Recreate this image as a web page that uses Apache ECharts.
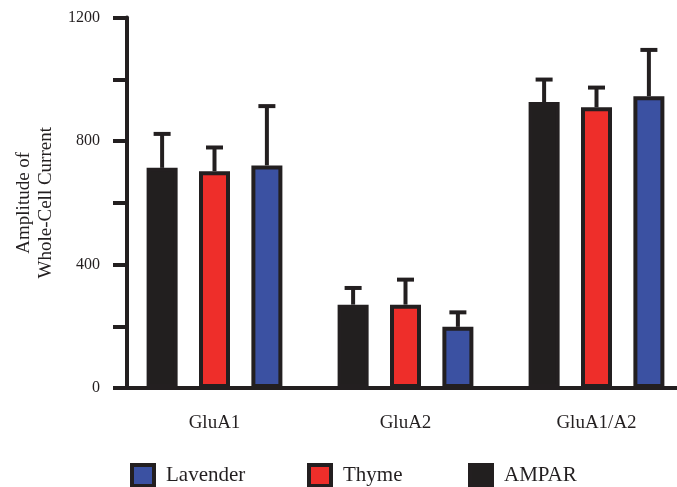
<!DOCTYPE html>
<html>
<head>
<meta charset="utf-8">
<script src="https://cdn.jsdelivr.net/npm/echarts@6/dist/echarts.min.js"></script>
<style>html,body{margin:0;padding:0;background:#fff}#c{width:677px;height:487px}</style>
</head>
<body>
<div id="c"></div>
<script>
const categories = ['GluA1', 'GluA2', 'GluA1/A2'];
const amparMean = [713, 270, 926];
const amparErr = [110, 54, 73];
const thymeMean = [702, 270, 909];
const thymeErr = [77, 81, 64];
const lavenderMean = [721, 198, 945];
const lavenderErr = [192, 47, 150];
const yTicks = [0, 400, 800, 1200];

const FONT = 'Liberation Serif';
const INK = '#231F20';
const BAR_W = 31;
const BAR_GAP = 0.69;
const colors = { AMPAR: '#221F1F', Thyme: '#EE2E2A', Lavender: '#3B51A2' };

const groups = [
  { name: 'AMPAR', mean: amparMean, err: amparErr },
  { name: 'Thyme', mean: thymeMean, err: thymeErr },
  { name: 'Lavender', mean: lavenderMean, err: lavenderErr }
];

const series = [];
groups.forEach((g, gi) => {
  series.push({
    name: g.name,
    type: 'bar',
    barWidth: BAR_W,
    barGap: (BAR_GAP * 100) + '%',
    data: g.mean,
    itemStyle: { color: colors[g.name], borderColor: INK, borderWidth: 4 },
    z: 2
  });
});
groups.forEach((g, gi) => {
  const offset = (gi - 1) * BAR_W * (1 + BAR_GAP);
  series.push({
    type: 'custom',
    name: g.name + ' err',
    z: 3,
    data: g.mean.map((m, i) => [i, m, m + g.err[i]]),
    renderItem: function (params, api) {
      const lo = api.coord([api.value(0), api.value(1)]);
      const hi = api.coord([api.value(0), api.value(2)]);
      const x = lo[0] + offset;
      const cap = 8.5;
      return {
        type: 'group',
        children: [
          { type: 'line', shape: { x1: x, y1: lo[1], x2: x, y2: hi[1] }, style: { stroke: INK, lineWidth: 4 } },
          { type: 'line', shape: { x1: x - cap, y1: hi[1], x2: x + cap, y2: hi[1] }, style: { stroke: INK, lineWidth: 4 } }
        ]
      };
    }
  });
});

function legendFor(name, left) {
  return {
    data: [name],
    left: left,
    top: 463,
    padding: 0,
    itemWidth: 22,
    itemHeight: 21,
    icon: 'rect',
    selectedMode: false,
    itemStyle: { borderColor: INK, borderWidth: 4 },
    textStyle: { fontFamily: FONT, fontSize: 21, color: INK, padding: [0, 0, 0, 7] }
  };
}

const option = {
  animation: false,
  backgroundColor: '#fff',
  grid: { left: 119, right: -15, top: 17.5, bottom: 99, outerBoundsMode: 'none' },
  legend: [legendFor('Lavender', 130), legendFor('Thyme', 307), legendFor('AMPAR', 468)],
  xAxis: {
    type: 'category',
    data: categories,
    axisLine: { lineStyle: { color: INK, width: 4 } },
    axisTick: { alignWithLabel: true, length: 17, lineStyle: { color: INK, width: 4 } },
    axisLabel: { fontFamily: FONT, fontSize: 19, color: INK, margin: 26 },
    splitLine: { show: false }
  },
  yAxis: {
    type: 'value',
    min: 0,
    max: 1200,
    interval: 200,
    offset: -8,
    name: 'Amplitude of\nWhole-Cell Current',
    nameLocation: 'middle',
    nameRotate: 90,
    nameGap: 67,
    nameTextStyle: { fontFamily: FONT, fontSize: 19, lineHeight: 22, color: INK, align: 'center' },
    axisLine: { show: true, lineStyle: { color: INK, width: 4 } },
    axisTick: { show: true, length: 14, lineStyle: { color: INK, width: 4 } },
    axisLabel: {
      fontFamily: FONT, fontSize: 16, color: INK, margin: 27,
      formatter: function (v) { return yTicks.indexOf(v) >= 0 ? String(v) : ''; }
    },
    splitLine: { show: false }
  },
  series: series
};

const chart = echarts.init(document.getElementById('c'));
chart.setOption(option);
</script>
</body>
</html>
